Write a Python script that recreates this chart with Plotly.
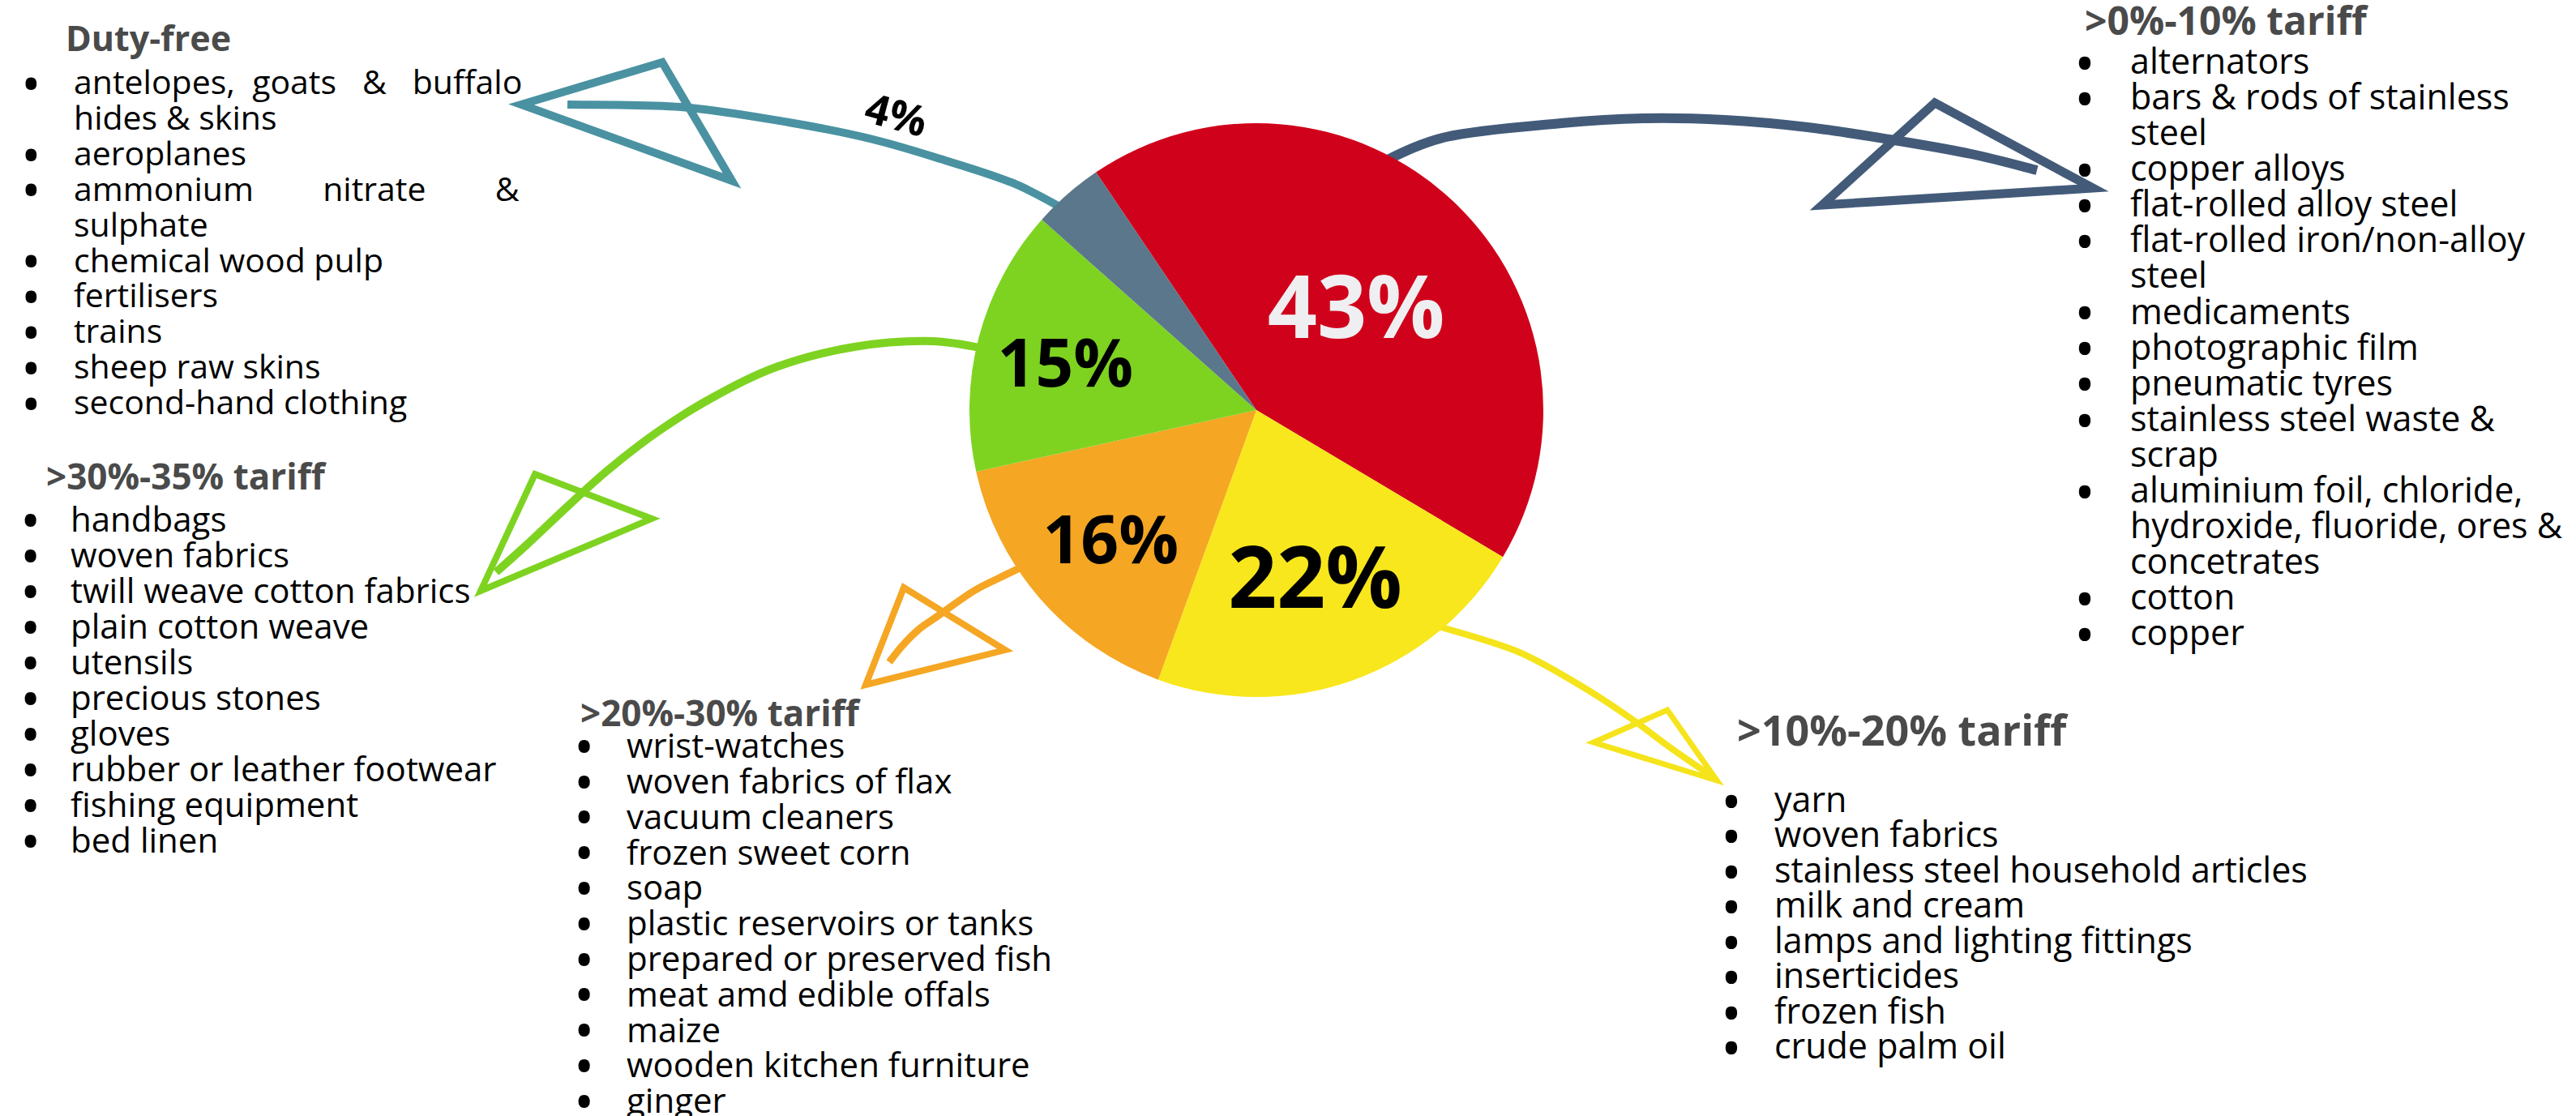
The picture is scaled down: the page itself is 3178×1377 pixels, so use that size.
import plotly.graph_objects as go

W, H = 3178, 1377

# ---------------- data ----------------
categories = [">0%-10% tariff", ">10%-20% tariff", ">20%-30% tariff", ">30%-35% tariff", "Duty-free"]
shares = [43, 22, 16, 15, 4]
slice_colors = ["#D0021B", "#F8E71C", "#F5A623", "#7ED321", "#5A778B"]
arrow_colors = ["#435B79", "#F5E41C", "#F5A623", "#7ED321", "#4A92A2"]
label_colors = ["#EFEFF2", "#000000", "#000000", "#000000", "#000000"]

duty_free_items = [
    "antelopes, goats & buffalo\nhides & skins", "aeroplanes", "ammonium nitrate &\nsulphate",
    "chemical wood pulp", "fertilisers", "trains", "sheep raw skins", "second-hand clothing",
]
tariff_0_10_items = [
    "alternators", "bars & rods of stainless\nsteel", "copper alloys", "flat-rolled alloy steel",
    "flat-rolled iron/non-alloy\nsteel", "medicaments", "photographic film", "pneumatic tyres",
    "stainless steel waste &\nscrap", "aluminium foil, chloride,\nhydroxide, fluoride, ores &\nconcetrates",
    "cotton", "copper",
]
tariff_10_20_items = [
    "yarn", "woven fabrics", "stainless steel household articles", "milk and cream",
    "lamps and lighting fittings", "inserticides", "frozen fish", "crude palm oil",
]
tariff_20_30_items = [
    "wrist-watches", "woven fabrics of flax", "vacuum cleaners", "frozen sweet corn", "soap",
    "plastic reservoirs or tanks", "prepared or preserved fish", "meat amd edible offals", "maize",
    "wooden kitchen furniture", "ginger",
]
tariff_30_35_items = [
    "handbags", "woven fabrics", "twill weave cotton fabrics", "plain cotton weave", "utensils",
    "precious stones", "gloves", "rubber or leather footwear", "fishing equipment", "bed linen",
]

# ---------------- layout helpers ----------------
FONT = "Open Sans"
HEAD_COLOR = "#4A4A4A"


def px(x, y):
    return x / W, 1 - y / H


def P(x, y):
    a, b = px(x, y)
    return f"{a:.5f},{b:.5f}"


fig = go.Figure()

# pie: centre (1550, 506) px, radius 354 px
cx, cy, r = 1550, 506, 354
fig.add_trace(go.Pie(
    labels=categories,
    values=shares,
    sort=False,
    direction="clockwise",
    rotation=-34,
    marker=dict(colors=slice_colors, line=dict(width=0)),
    text=[f"{v}%" if v >= 10 else "" for v in shares],
    textinfo="text",
    textposition="inside",
    insidetextorientation="horizontal",
    insidetextfont=dict(family=FONT, size=[107, 105, 82, 82, 40], color=label_colors, weight=700),
    domain=dict(x=[(cx - r) / W, (cx + r) / W], y=[1 - (cy + r) / H, 1 - (cy - r) / H]),
    hoverinfo="label+value",
    showlegend=False,
))


def add_text(x, baseline, text, size, color, weight=400, anchor="left", angle=0, center=None):
    xx, _ = px(x, 0)
    yc = center if center is not None else baseline - 0.388 * size
    _, yy = px(0, yc)
    fig.add_annotation(
        x=xx, y=yy, xref="paper", yref="paper", xanchor=anchor, yanchor="middle",
        text=text, showarrow=False, textangle=angle, borderpad=0,
        font=dict(family=FONT, size=size, color=color, weight=weight),
    )


JUSTIFY_GAPS = {"antelopes, goats & buffalo": [2, 3, 3], "ammonium nitrate &": [8, 8]}


def justify(line):
    gaps = JUSTIFY_GAPS.get(line)
    if not gaps:
        return line
    words = line.split(" ")
    out = words[0]
    for w, g in zip(words[1:], gaps):
        out += "\u00a0" * g + w
    return out


def add_block(title, items, hx, hbase, hsize, bx, tx, base0, step, size):
    add_text(hx, hbase, f"{title}", hsize, HEAD_COLOR, weight=700)
    i = 0
    for item in items:
        lines = item.split("\n")
        for j, line in enumerate(lines):
            b = base0 + step * i
            if j == 0:
                add_text(bx, b, "\u2022", size * 1.6, "#000000", anchor="center",
                         center=b - 0.36 * size)
            add_text(tx, b, justify(line), size, "#000000")
            i += 1


add_block(categories[4], duty_free_items, 80, 63, 43, 38, 90, 116, 43.9, 41)
add_block(categories[3], tariff_30_35_items, 56, 604, 44, 37, 86, 656, 44.0, 42)
add_block(categories[2], tariff_20_30_items, 715, 896, 44, 720, 772, 935, 43.8, 42)
add_block(categories[0], tariff_0_10_items, 2571, 43, 48, 2572, 2627, 91, 44.1, 43)
add_block(categories[1], tariff_10_20_items, 2142, 920, 52, 2136, 2188, 1002, 43.5, 43)

# small-slice label
add_text(1106, 160, f"{shares[4]}%", 52, "#000000", weight=700, anchor="center", angle=15)


# ---------------- sketched arrows ----------------
def smooth_path(pts):
    d = "M " + P(*pts[0])
    n = len(pts)
    for i in range(n - 1):
        p0 = pts[i - 1] if i > 0 else pts[i]
        p1 = pts[i]
        p2 = pts[i + 1]
        p3 = pts[i + 2] if i + 2 < n else p2
        c1 = (p1[0] + (p2[0] - p0[0]) / 6, p1[1] + (p2[1] - p0[1]) / 6)
        c2 = (p2[0] - (p3[0] - p1[0]) / 6, p2[1] - (p3[1] - p1[1]) / 6)
        d += f" C {P(*c1)} {P(*c2)} {P(*p2)}"
    return d


def tri_path(pts):
    return "M " + " L ".join(P(*p) for p in pts) + " Z"


arrows = [
    # colour index, shaft points, head triangle, shaft width, head width
    (0, [(1695, 205), (1784, 169), (1926, 152), (2027, 146), (2128, 148), (2230, 157), (2331, 172),
         (2432, 190), (2513, 210)],
     [(2248, 253), (2387, 127), (2582, 232)], 12, 11),
    (1, [(1765, 770), (1870, 803), (1950, 846), (2010, 885), (2060, 922), (2112, 958)],
     [(1966, 916), (2057, 876), (2118, 963)], 8, 7),
    (2, [(1275, 693), (1233, 713), (1200, 730), (1157, 760), (1133, 777), (1113, 797), (1097, 817)],
     [(1115, 725), (1240, 802), (1068, 845)], 9, 8),
    (3, [(1225, 432), (1150, 421), (1054, 428), (960, 452), (880, 490), (811, 533), (750, 580),
         (700, 625), (650, 672), (612, 706)],
     [(660, 585), (804, 640), (593, 729)], 10, 8),
    (4, [(1320, 262), (1250, 226), (1160, 196), (1073, 171), (973, 151), (840, 132), (700, 129)],
     [(643, 129), (817, 77), (903, 223)], 10, 10),
]

for ci, shaft, head, sw, hw in arrows:
    col = arrow_colors[ci]
    fig.add_shape(type="path", path=smooth_path(shaft), xref="paper", yref="paper",
                  line=dict(color=col, width=sw), layer="below")
    fig.add_shape(type="path", path=tri_path(head), xref="paper", yref="paper",
                  line=dict(color=col, width=hw), fillcolor="rgba(0,0,0,0)", layer="below")

fig.update_layout(
    width=W, height=H,
    margin=dict(l=0, r=0, t=0, b=0),
    paper_bgcolor="white", plot_bgcolor="white",
    showlegend=False,
)

fig.write_html("out.html")
